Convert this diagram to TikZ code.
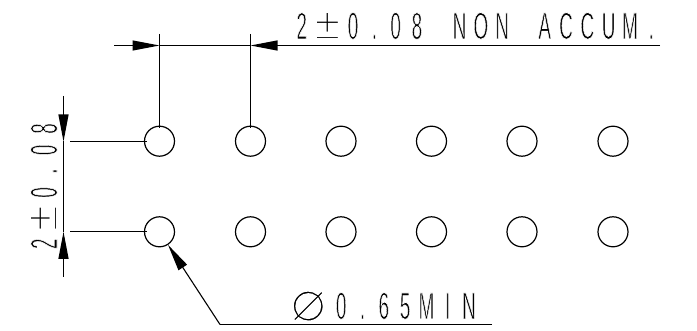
\documentclass[tikz,border=0pt]{standalone}
\usepackage{fontspec}
\setmainfont{Liberation Sans}
\newfontfamily\phifont{DejaVu Sans}
\usetikzlibrary{arrows.meta}
% thin the glyphs with a white outline, to match the hairline CAD lettering
\newcommand{\thinned}[2]{\special{pdf:code 2 Tr 1 1 1 RG #1 w}#2\special{pdf:code 0 Tr 0 G}}
% one CAD-lettering character on a fixed pitch
\newcommand{\cc}[1]{\makebox[42.6pt][c]{\thinned{0.8}{#1}}}
\newcommand{\ccpm}{\makebox[60pt][c]{\scalebox{2.5}[1.2]{\thinned{1.7}{±}}}}
\newcommand{\cadtext}[1]{\scalebox{0.5}[1]{\fontsize{38}{38}\selectfont #1}}
\tikzset{
  hole/.style={circle,draw,minimum size=30pt,inner sep=0pt,line width=1.2pt},
  dimline/.style={line width=1.1pt,black},
  tiparrow/.style={dimline,-{Triangle[length=27pt,width=10pt]}},
  cadlabel/.style={inner sep=0pt,text=black}
}
\begin{document}
\begin{tikzpicture}[x=1pt,y=-1pt]
\useasboundingbox (0,0) rectangle (697,331);
\fill[white] (0,0) rectangle (697,331);
% labels first, so that their white outlines stay under the lines
\node[cadlabel,anchor=base west] (toplabel) at (290.85,39) {\cadtext{\cc{2}\ccpm\cc{0}\cc{.}\cc{0}\cc{8}\cc{ }\cc{N}\cc{O}\cc{N}\cc{ }\cc{A}\cc{C}\cc{C}\cc{U}\cc{M}\cc{.}}};
\node[cadlabel,anchor=base west,rotate=90] (leftlabel) at (57,254.6) {\cadtext{\cc{2}\ccpm\cc{0}\cc{.}\cc{0}\cc{8}}};
\node[cadlabel,anchor=base west] (philabel) at (286,319) {\makebox[44.35pt][l]{\hspace*{4pt}\raisebox{-2pt}{\fontsize{60}{60}\phifont\thinned{2.6}{⌀}}}\cadtext{\cc{0}\cc{.}\cc{6}\cc{5}\cc{M}\cc{I}\cc{N}}};
% holes
\foreach \n/\x in {1/159.5,2/250.5,3/341,4/431.5,5/522,6/613}{
  \node[hole] (a\n) at (\x,141.2) {};
  \node[hole] (b\n) at (\x,231.8) {};
}
% top dimension
\coordinate (t1) at (159.5,45.5);
\coordinate (t2) at (250.5,45.5);
\coordinate (tl) at (114,45.5);
\coordinate (tr) at (660,45.5);
\coordinate (e1a) at (159.5,34);
\coordinate (e1b) at (159.5,128);
\coordinate (e2a) at (250.5,34);
\coordinate (e2b) at (250.5,128);
\draw[dimline] (e1a) -- (e1b);
\draw[dimline] (e2a) -- (e2b);
\draw[tiparrow] (tl) -- (t1);
\draw[dimline] (t1) -- (t2);
\draw[tiparrow] (tr) -- (t2);
% left dimension
\coordinate (l1) at (63.5,141.5);
\coordinate (l2) at (63.5,231.8);
\coordinate (lt) at (63.5,96);
\coordinate (lb) at (63.5,277);
\coordinate (f1a) at (70,141.5);
\coordinate (f1b) at (147,141.5);
\coordinate (f2a) at (70,231.8);
\coordinate (f2b) at (147,231.8);
\draw[dimline] (f1a) -- (f1b);
\draw[dimline] (f2a) -- (f2b);
\draw[tiparrow] (lt) -- (l1);
\draw[dimline] (l1) -- (l2);
\draw[tiparrow] (lb) -- (l2);
% leader
\coordinate (k) at (220,324.5);
\coordinate (kr) at (492,324.5);
\draw[dimline] (kr) -- (k);
\draw[tiparrow] (k) -- (b1);
\end{tikzpicture}
\end{document}
